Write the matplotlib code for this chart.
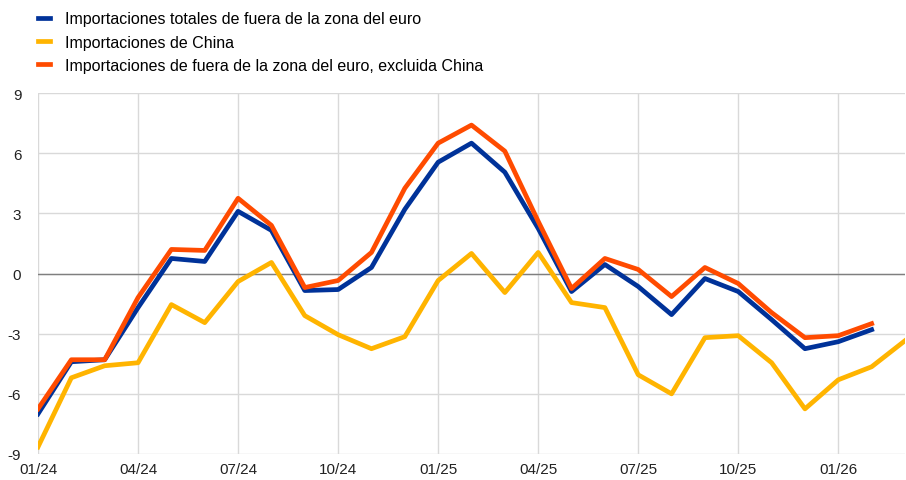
import matplotlib
matplotlib.use("Agg")
import matplotlib.pyplot as plt
import numpy as np

plt.rcParams['font.family'] = ['Liberation Sans', 'DejaVu Sans']
plt.rcParams['axes.unicode_minus'] = False

# monthly observations from 01/24
months = np.arange(27)
tick_labels = ["01/24", "04/24", "07/24", "10/24", "01/25", "04/25", "07/25", "10/25", "01/26"]

total = [-7.0, -4.4, -4.3, -1.7, 0.75, 0.6, 3.1, 2.15, -0.85, -0.8, 0.3, 3.2, 5.55,
         6.5, 5.05, 2.25, -0.9, 0.45, -0.65, -2.05, -0.25, -0.9, -2.3, -3.75, -3.4, -2.8]
china = [-8.65, -5.2, -4.6, -4.45, -1.55, -2.45, -0.4, 0.55, -2.1, -3.05, -3.75, -3.15,
         -0.35, 1.0, -0.95, 1.05, -1.45, -1.7, -5.05, -6.0, -3.2, -3.1, -4.45, -6.75,
         -5.3, -4.65, -3.35]
excl_china = [-6.75, -4.3, -4.3, -1.2, 1.2, 1.15, 3.75, 2.4, -0.7, -0.35, 1.05, 4.25, 6.5,
              7.4, 6.1, 2.6, -0.75, 0.75, 0.2, -1.15, 0.3, -0.5, -1.95, -3.2, -3.1, -2.5]

labels = ["Importaciones totales de fuera de la zona del euro",
          "Importaciones de China",
          "Importaciones de fuera de la zona del euro, excluida China"]
colors = ["#003299", "#FFB400", "#FF4B00"]

fig = plt.figure(figsize=(9.06, 4.81), dpi=100)
ax = fig.add_axes([38 / 906, 26 / 481, 867 / 906, 361 / 481])

ax.plot(months[:len(total)], total, color=colors[0], lw=3.4, label=labels[0], zorder=3)
ax.plot(months[:len(china)], china, color=colors[1], lw=3.4, label=labels[1], zorder=3)
ax.plot(months[:len(excl_china)], excl_china, color=colors[2], lw=3.4, label=labels[2], zorder=3)

ax.axhline(0, color="#7f7f7f", lw=1, zorder=2)
ax.set_xlim(0, 26)
ax.set_ylim(-9, 9)
ax.set_yticks(np.arange(-9, 10, 3))
ax.set_xticks(np.arange(0, 25, 3))
ax.set_xticklabels(tick_labels)
ax.grid(True, color="#d9d9d9", lw=1)
ax.set_axisbelow(True)
for s in ax.spines.values():
    s.set_visible(False)
ax.tick_params(length=0, labelsize=11, colors="#222222")
ax.tick_params(axis="y", pad=12)
ax.tick_params(axis="x", pad=6)

fs = 11.5
px = fs * 100 / 72
fig.legend(loc="upper left", bbox_to_anchor=((38 - 0.4 * px) / 906, 1 - 6 / 481),
           frameon=False, fontsize=fs, handlelength=0.75, handletextpad=0.95,
           labelspacing=0.52, borderaxespad=0)

fig.savefig("out.png", dpi=100)
